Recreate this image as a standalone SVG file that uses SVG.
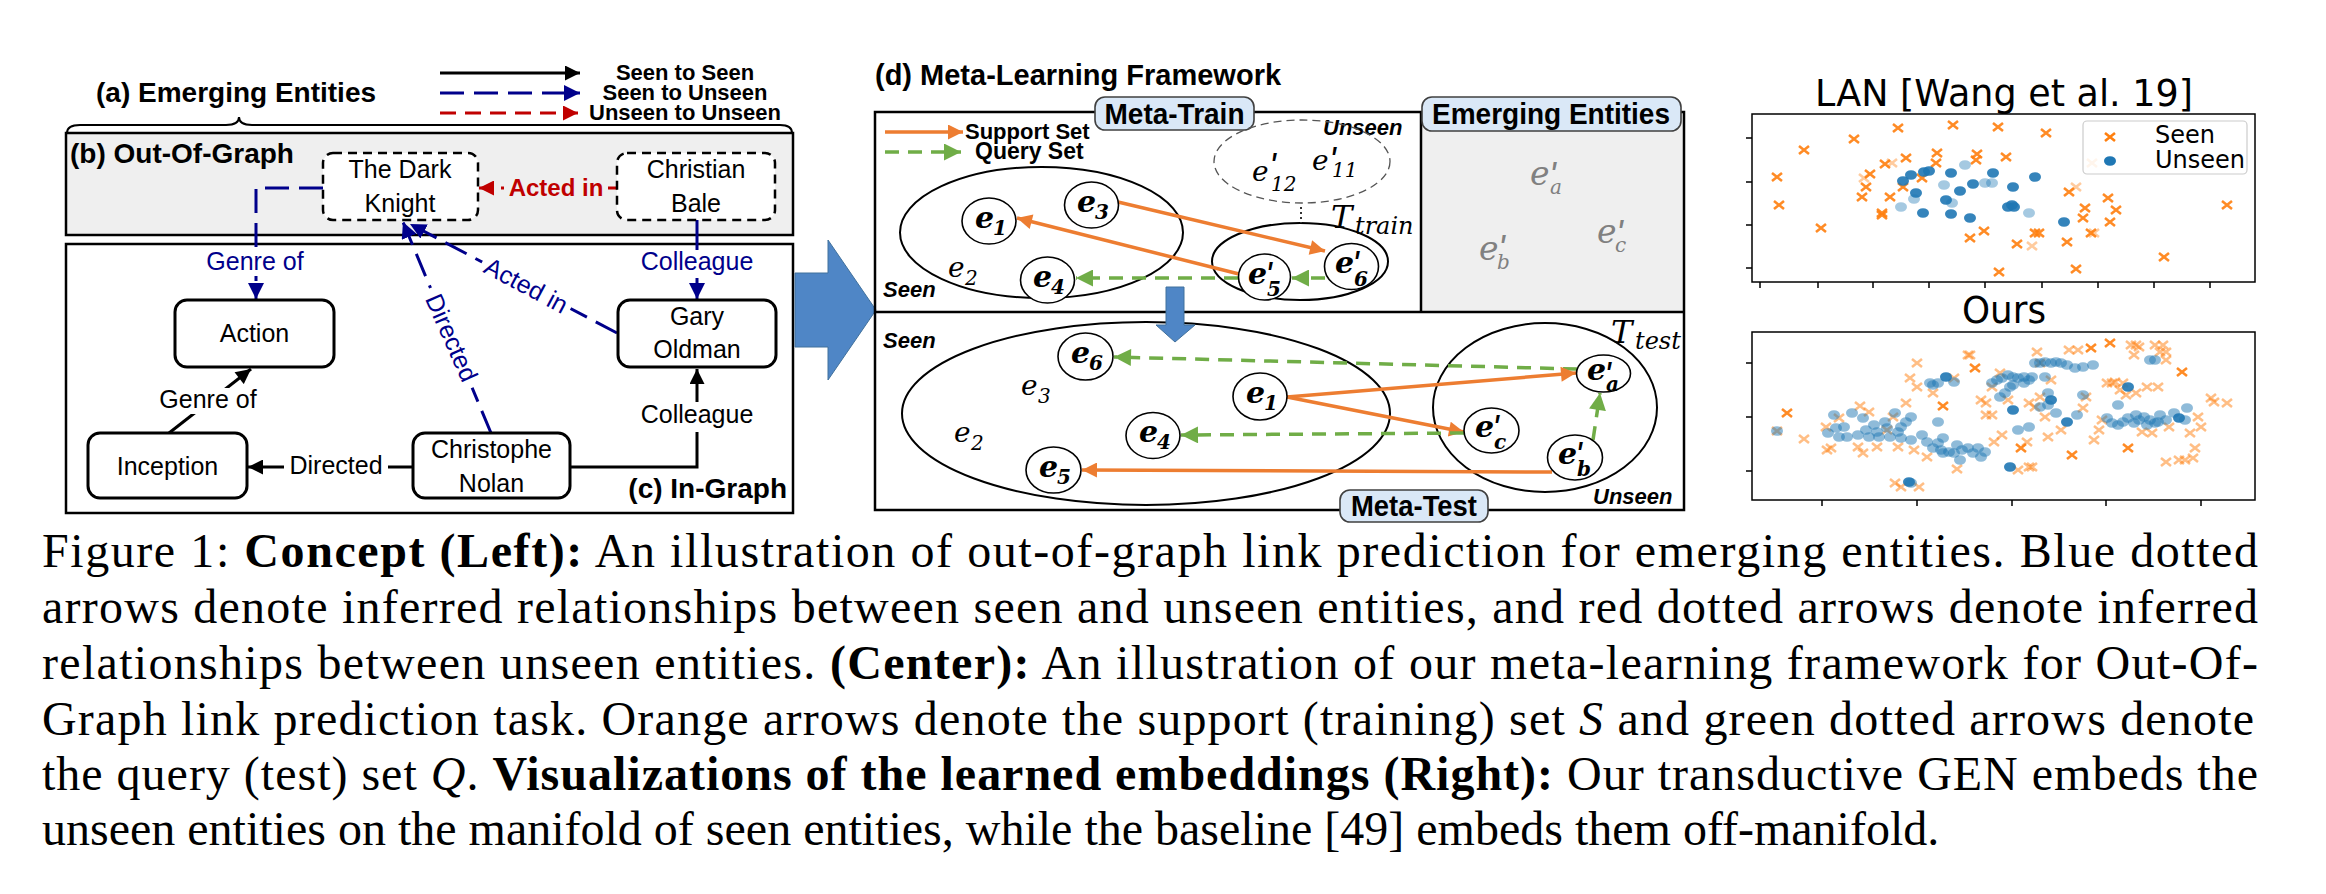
<svg xmlns="http://www.w3.org/2000/svg" width="2326" height="894" viewBox="0 0 2326 894">
<style>
text{font-family:"Liberation Sans",Arial,sans-serif;fill:#000}
.h28{font-size:28px;font-weight:bold}
.nd{fill:#fff;stroke:#000;stroke-width:3}
.ndd{fill:#fff;stroke:#000;stroke-width:2.5;stroke-dasharray:9 6}
.nt{font-size:25px;text-anchor:middle}
.el{font-size:25px;text-anchor:middle}
.bt{fill:#00008b}
.rt{fill:#c00000;font-weight:bold;font-size:24px}
.k{stroke:#000;stroke-width:3;fill:none}
.bl{stroke:#00008b;stroke-width:3;fill:none}
.bld{stroke:#00008b;stroke-width:3;fill:none;stroke-dasharray:24 10}
.rd{stroke:#c00000;stroke-width:3;fill:none;stroke-dasharray:16 9}
.or{stroke:#ed7d31;stroke-width:3.5;fill:none}
.gr{stroke:#70ad47;stroke-width:3.5;fill:none;stroke-dasharray:14 9}
.frame{fill:none;stroke:#000;stroke-width:2.5}
.tag{fill:#dae8f7;stroke:#404040;stroke-width:1.6}
.tagt{font-size:30px;font-weight:bold;text-anchor:middle}
.reg{fill:none;stroke:#000;stroke-width:2}
.cn{fill:#fff;stroke:#000;stroke-width:1.6}
.mb{font-family:"DejaVu Serif",serif;font-style:italic;font-weight:bold;font-size:30px}
.m{font-family:"DejaVu Serif",serif;font-style:italic;font-size:28px}
.sb{font-size:20px}
.pr{font-family:"Liberation Sans",Arial,sans-serif;font-size:36px;font-weight:normal;font-style:italic}
.gm{fill:#808080;font-size:33px}
.si{font-weight:bold;font-style:italic;font-size:22px}
.cap{font-family:"Liberation Serif","Times New Roman",serif;font-size:48px}
.ax{fill:none;stroke:#000;stroke-width:1.5}
.tk{stroke:#000;stroke-width:1.5}
.pt{font-family:"DejaVu Sans",sans-serif;font-size:38px;text-anchor:middle}
.lg{font-family:"DejaVu Sans",sans-serif;font-size:24px}
.p1 use{opacity:.9}
.p1 use.f{opacity:.4}
.p2 use{opacity:.5}
.p2 use.d{opacity:.9}
</style>
<defs>
<marker id="ak" viewBox="0 0 10 10" refX="10" refY="5" markerWidth="16" markerHeight="15" markerUnits="userSpaceOnUse" orient="auto"><path d="M0,0L10,5L0,10z" fill="#000"/></marker>
<marker id="ab" viewBox="0 0 10 10" refX="10" refY="5" markerWidth="16" markerHeight="16" markerUnits="userSpaceOnUse" orient="auto"><path d="M0,0L10,5L0,10z" fill="#00008b"/></marker>
<marker id="ar" viewBox="0 0 10 10" refX="10" refY="5" markerWidth="17" markerHeight="15" markerUnits="userSpaceOnUse" orient="auto"><path d="M0,0L10,5L0,10z" fill="#c00000"/></marker>
<marker id="ao" viewBox="0 0 10 10" refX="10" refY="5" markerWidth="19" markerHeight="15" markerUnits="userSpaceOnUse" orient="auto"><path d="M0,0L10,5L0,10z" fill="#ed7d31"/></marker>
<marker id="ag" viewBox="0 0 10 10" refX="10" refY="5" markerWidth="18" markerHeight="17" markerUnits="userSpaceOnUse" orient="auto"><path d="M0,0L10,5L0,10z" fill="#70ad47"/></marker>
<path id="xo" d="M-5,-4L5,4M-5,4L5,-4" stroke="#ff7f0e" stroke-width="2.6"/>
<ellipse id="db" rx="6" ry="4.8" fill="#1f77b4"/>
</defs>
<rect width="2326" height="894" fill="#fff"/>

<!-- ===== Left panel ===== -->
<g id="left-panel">
<text x="96" y="102" class="h28">(a) Emerging Entities</text>
<text x="685" y="80" font-size="22" font-weight="bold" text-anchor="middle">Seen to Seen</text>
<text x="685" y="100" font-size="22" font-weight="bold" text-anchor="middle">Seen to Unseen</text>
<text x="685" y="120" font-size="22" font-weight="bold" text-anchor="middle">Unseen to Unseen</text>
<path d="M67,133 Q67,125 80,125 L226,125 Q239,125 239,117 Q239,125 252,125 L780,125 Q792,125 792,133" fill="none" stroke="#000" stroke-width="2"/>
<rect x="66" y="133" width="727" height="102" fill="#efefef" stroke="#000" stroke-width="2.5"/>
<text x="70" y="163" class="h28">(b) Out-Of-Graph</text>
<rect x="66" y="244" width="727" height="269" fill="#fff" stroke="#000" stroke-width="2.5"/>
<text x="787" y="498" class="h28" text-anchor="end">(c) In-Graph</text>
<polygon points="795,273 828,273 828,240 876,310 828,380 828,347 795,347" fill="#4f86c6" stroke="#41719c" stroke-width="1"/>
</g>

<g id="connectors">
<!-- legend -->
<line x1="440" y1="73" x2="580" y2="73" class="k" marker-end="url(#ak)"/>
<line x1="440" y1="93" x2="580" y2="93" class="bld" marker-end="url(#ab)"/>
<line x1="440" y1="113" x2="578" y2="113" class="rd" marker-end="url(#ar)"/>
<!-- out-of-graph / in-graph edges -->
<line x1="617" y1="188" x2="479" y2="188" class="rd" marker-end="url(#ar)"/>
<rect x="504" y="174" width="104" height="26" fill="#efefef"/>
<text x="556" y="196" class="rt" text-anchor="middle">Acted in</text>
<path d="M323,188 H256 V299" class="bld" marker-end="url(#ab)"/>
<rect x="204" y="250" width="102" height="26" fill="#fff"/>
<text x="255" y="270" class="el bt">Genre of</text>
<line x1="697" y1="220" x2="697" y2="299" class="bl" marker-end="url(#ab)"/>
<rect x="639" y="250" width="116" height="28" fill="#fff"/>
<text x="697" y="270" class="el bt">Colleague</text>
<line x1="491" y1="433" x2="403" y2="222" class="bld" marker-end="url(#ab)"/>
<g transform="translate(451,338) rotate(66)"><rect x="-54" y="-14" width="108" height="28" fill="#fff"/><text class="el bt" y="8">Directed</text></g>
<line x1="617" y1="333" x2="410" y2="224" class="bld" marker-end="url(#ab)"/>
<g transform="translate(526,286) rotate(28)"><rect x="-50" y="-14" width="100" height="28" fill="#fff"/><text class="el bt" y="8">Acted in</text></g>
<line x1="413" y1="467" x2="248" y2="467" class="k" marker-end="url(#ak)"/>
<rect x="284" y="452" width="104" height="28" fill="#fff"/>
<text x="336" y="474" class="el">Directed</text>
<line x1="169" y1="433" x2="251" y2="369" class="k" marker-end="url(#ak)"/>
<rect x="156" y="388" width="104" height="26" fill="#fff"/>
<text x="208" y="408" class="el">Genre of</text>
<polyline points="570,467 697,467 697,369" class="k" marker-end="url(#ak)"/>
<rect x="639" y="402" width="116" height="30" fill="#fff"/>
<text x="697" y="423" class="el">Colleague</text>
</g>

<g id="node-dark-knight"><rect x="323" y="153" width="155" height="67" rx="10" class="ndd"/><text x="400" y="178" class="nt">The Dark</text><text x="400" y="212" class="nt">Knight</text></g>
<g id="node-christian-bale"><rect x="617" y="153" width="158" height="67" rx="10" class="ndd"/><text x="696" y="178" class="nt">Christian</text><text x="696" y="212" class="nt">Bale</text></g>
<g id="node-action"><rect x="175" y="300" width="159" height="67" rx="12" class="nd"/><text x="254.5" y="342" class="nt">Action</text></g>
<g id="node-gary-oldman"><rect x="618" y="300" width="158" height="67" rx="12" class="nd"/><text x="697" y="325" class="nt">Gary</text><text x="697" y="358" class="nt">Oldman</text></g>
<g id="node-inception"><rect x="88" y="433" width="159" height="65" rx="12" class="nd"/><text x="167.5" y="475" class="nt">Inception</text></g>
<g id="node-nolan"><rect x="413" y="433" width="157" height="65" rx="12" class="nd"/><text x="491.5" y="458" class="nt">Christophe</text><text x="491.5" y="492" class="nt">Nolan</text></g>

<!-- ===== Center panel ===== -->
<g id="center-panel">
<text x="875" y="85" font-size="29" font-weight="bold">(d) Meta-Learning Framework</text>
<rect x="1421" y="112" width="263" height="200" fill="#efefef"/>
<rect x="875" y="112" width="809" height="398" class="frame"/>
<line x1="875" y1="312" x2="1684" y2="312" stroke="#000" stroke-width="2.5"/>
<line x1="1421" y1="112" x2="1421" y2="312" stroke="#000" stroke-width="2.5"/>
<rect x="1095" y="97" width="159" height="33" rx="10" class="tag"/>
<text x="1174.5" y="124" class="tagt" textLength="140" lengthAdjust="spacingAndGlyphs">Meta-Train</text>
<rect x="1422" y="97" width="259" height="34" rx="10" class="tag"/>
<text x="1551" y="124" class="tagt" textLength="238" lengthAdjust="spacingAndGlyphs">Emerging Entities</text>
<rect x="1340" y="490" width="148" height="32" rx="10" class="tag"/>
<text x="1414" y="516" class="tagt" textLength="126" lengthAdjust="spacingAndGlyphs">Meta-Test</text>
<text x="965" y="139" font-size="22" font-weight="bold">Support Set</text>
<text x="975" y="159" font-size="23" font-weight="bold">Query Set</text>
<text x="883" y="297" class="si">Seen</text>
<text x="1323" y="135" class="si" font-size="23">Unseen</text>
<text x="883" y="348" class="si">Seen</text>
<text x="1593" y="504" class="si" font-size="23">Unseen</text>
<ellipse cx="1041.5" cy="232.5" rx="141.5" ry="65.5" class="reg"/>
<ellipse cx="1302" cy="161.5" rx="88" ry="41.5" fill="none" stroke="#555" stroke-width="1.3" stroke-dasharray="8 5"/>
<ellipse cx="1300" cy="261.5" rx="88" ry="38.5" class="reg"/>
<line x1="1301" y1="207" x2="1301" y2="223" stroke="#333" stroke-width="2" stroke-dasharray="2 3"/>
<text class="m"><tspan x="1331" y="228" font-size="32">T</tspan><tspan x="1355" y="234" font-size="24">train</tspan></text>
<ellipse cx="1146" cy="413.5" rx="244" ry="91.5" class="reg"/>
<ellipse cx="1545" cy="407.5" rx="112" ry="84.5" class="reg"/>
<text class="m"><tspan x="1611" y="343" font-size="32">T</tspan><tspan x="1635" y="349" font-size="24">test</tspan></text>
<polygon points="1166,287 1184,287 1184,325 1195,325 1175,342 1156,325 1166,325" fill="#4f86c6" stroke="#41719c" stroke-width="1"/>
<!-- plain entities -->
<text class="m"><tspan x="948" y="277">e</tspan><tspan x="965" y="285" class="sb">2</tspan></text>
<text class="m"><tspan x="954" y="442">e</tspan><tspan x="971" y="450" class="sb">2</tspan></text>
<text class="m"><tspan x="1021" y="395">e</tspan><tspan x="1038" y="403" class="sb">3</tspan></text>
<text class="m"><tspan x="1252" y="181">e</tspan><tspan x="1269" y="179" class="pr">'</tspan><tspan x="1271" y="191" class="sb">12</tspan></text>
<text class="m"><tspan x="1312" y="170">e</tspan><tspan x="1329" y="173" class="pr">'</tspan><tspan x="1332" y="177" class="sb">11</tspan></text>
<text class="m gm"><tspan x="1530" y="185">e</tspan><tspan x="1549" y="188" class="pr">'</tspan><tspan x="1550" y="194" class="sb">a</tspan></text>
<text class="m gm"><tspan x="1479" y="260">e</tspan><tspan x="1498" y="261" class="pr">'</tspan><tspan x="1497" y="269" class="sb">b</tspan></text>
<text class="m gm"><tspan x="1597" y="243">e</tspan><tspan x="1616" y="246" class="pr">'</tspan><tspan x="1615" y="252" class="sb">c</tspan></text>
</g>

<g id="center-connectors">
<line x1="885" y1="132" x2="963" y2="132" class="or" marker-end="url(#ao)"/>
<line x1="885" y1="152" x2="961" y2="152" class="gr" marker-end="url(#ag)"/>
<line x1="1118" y1="202" x2="1325" y2="251" class="or" marker-end="url(#ao)"/>
<line x1="1239" y1="274" x2="1017" y2="218" class="or" marker-end="url(#ao)"/>
<line x1="1238" y1="278" x2="1076" y2="278" class="gr" marker-end="url(#ag)"/>
<line x1="1325" y1="278" x2="1292" y2="278" class="gr" marker-end="url(#ag)"/>
<line x1="1577" y1="369" x2="1114" y2="357" class="gr" marker-end="url(#ag)"/>
<line x1="1287" y1="397" x2="1576" y2="373" class="or" marker-end="url(#ao)"/>
<line x1="1287" y1="397" x2="1464" y2="432" class="or" marker-end="url(#ao)"/>
<line x1="1464" y1="433" x2="1181" y2="435" class="gr" marker-end="url(#ag)"/>
<line x1="1552" y1="472" x2="1082" y2="470" class="or" marker-end="url(#ao)"/>
<line x1="1593" y1="440" x2="1600" y2="393" class="gr" marker-end="url(#ag)"/>
</g>

<g id="node-train-e1"><ellipse cx="989" cy="221" rx="27" ry="23" class="cn"/><text class="mb"><tspan x="975" y="228">e</tspan><tspan x="993" y="235" class="sb">1</tspan></text></g>
<g id="node-train-e3"><ellipse cx="1091.5" cy="205" rx="27" ry="23" class="cn"/><text class="mb"><tspan x="1077" y="212">e</tspan><tspan x="1095" y="219" class="sb">3</tspan></text></g>
<g id="node-train-e4"><ellipse cx="1047.5" cy="280" rx="27" ry="23" class="cn"/><text class="mb"><tspan x="1033" y="287">e</tspan><tspan x="1051" y="294" class="sb">4</tspan></text></g>
<g id="node-train-e5p"><ellipse cx="1264.5" cy="277" rx="26" ry="23" class="cn"/><text class="mb"><tspan x="1248" y="284">e</tspan><tspan x="1265" y="288" class="pr">'</tspan><tspan x="1267" y="296" class="sb">5</tspan></text></g>
<g id="node-train-e6p"><ellipse cx="1351.5" cy="266.5" rx="27" ry="23" class="cn"/><text class="mb"><tspan x="1335" y="273">e</tspan><tspan x="1352" y="277" class="pr">'</tspan><tspan x="1354" y="286" class="sb">6</tspan></text></g>
<g id="node-test-e6"><ellipse cx="1085.5" cy="356.5" rx="27.5" ry="23.5" class="cn"/><text class="mb"><tspan x="1071" y="363">e</tspan><tspan x="1089" y="370" class="sb">6</tspan></text></g>
<g id="node-test-e1"><ellipse cx="1260" cy="396.5" rx="27" ry="23.5" class="cn"/><text class="mb"><tspan x="1246" y="403">e</tspan><tspan x="1264" y="410" class="sb">1</tspan></text></g>
<g id="node-test-e4"><ellipse cx="1153" cy="435.5" rx="27" ry="23" class="cn"/><text class="mb"><tspan x="1139" y="442">e</tspan><tspan x="1157" y="449" class="sb">4</tspan></text></g>
<g id="node-test-e5"><ellipse cx="1053.5" cy="470" rx="27.5" ry="23" class="cn"/><text class="mb"><tspan x="1039" y="477">e</tspan><tspan x="1057" y="484" class="sb">5</tspan></text></g>
<g id="node-test-ea"><ellipse cx="1603.5" cy="373.5" rx="27" ry="18.5" class="cn"/><text class="mb"><tspan x="1587" y="380">e</tspan><tspan x="1604" y="388" class="pr">'</tspan><tspan x="1606" y="391" class="sb">a</tspan></text></g>
<g id="node-test-ec"><ellipse cx="1491.5" cy="430.5" rx="27.5" ry="22.5" class="cn"/><text class="mb"><tspan x="1475" y="437">e</tspan><tspan x="1492" y="441" class="pr">'</tspan><tspan x="1494" y="449" class="sb">c</tspan></text></g>
<g id="node-test-eb"><ellipse cx="1575" cy="457.5" rx="27.5" ry="22.5" class="cn"/><text class="mb"><tspan x="1558" y="464">e</tspan><tspan x="1575" y="468" class="pr">'</tspan><tspan x="1577" y="476" class="sb">b</tspan></text></g>

<!-- ===== Right plots ===== -->
<g id="plot-lan">
<text x="2004" y="106" class="pt" textLength="378" lengthAdjust="spacingAndGlyphs">LAN [Wang et al. 19]</text>
<g class="p1">
<use href="#xo" x="1898" y="128"/><use href="#xo" x="1953" y="125"/><use href="#xo" x="1998" y="127"/><use href="#xo" x="2046" y="133"/><use href="#xo" x="1854" y="139"/><use href="#xo" x="1804" y="150"/><use href="#xo" x="1777" y="177"/><use href="#xo" x="1779" y="205"/><use href="#xo" x="1821" y="228"/><use href="#xo" x="1870" y="174"/><use href="#xo" x="1864" y="178" class="f"/><use href="#xo" x="1866" y="187"/><use href="#xo" x="1862" y="197"/><use href="#xo" x="1890" y="197"/><use href="#xo" x="1882" y="213"/><use href="#xo" x="1882" y="215"/><use href="#xo" x="1885" y="164"/><use href="#xo" x="1892" y="163" class="f"/><use href="#xo" x="1906" y="158"/><use href="#xo" x="1937" y="153"/><use href="#xo" x="1936" y="163"/><use href="#xo" x="1977" y="154"/><use href="#xo" x="1976" y="160"/><use href="#xo" x="2006" y="157"/><use href="#xo" x="1903" y="187"/><use href="#xo" x="1922" y="178"/><use href="#xo" x="2069" y="192"/><use href="#xo" x="2076" y="187" class="f"/><use href="#xo" x="2108" y="198"/><use href="#xo" x="2116" y="210"/><use href="#xo" x="2085" y="208"/><use href="#xo" x="2083" y="218"/><use href="#xo" x="2110" y="222"/><use href="#xo" x="2091" y="233"/><use href="#xo" x="2094" y="233" class="f"/><use href="#xo" x="2067" y="242"/><use href="#xo" x="2039" y="233"/><use href="#xo" x="2035" y="233"/><use href="#xo" x="2017" y="244"/><use href="#xo" x="2032" y="246" class="f"/><use href="#xo" x="1984" y="231"/><use href="#xo" x="1970" y="238"/><use href="#xo" x="1999" y="272"/><use href="#xo" x="2076" y="269"/><use href="#xo" x="2164" y="257"/><use href="#xo" x="2227" y="205"/><use href="#xo" x="2092" y="163" class="f"/>
<use href="#db" x="1903" y="181"/><use href="#db" x="1911" y="175"/><use href="#db" x="1916" y="193"/><use href="#db" x="1924" y="172"/><use href="#db" x="1929" y="171"/><use href="#db" x="1914" y="199" class="f"/><use href="#db" x="1901" y="207" class="f"/><use href="#db" x="1923" y="213"/><use href="#db" x="1944" y="185" class="f"/><use href="#db" x="1951" y="173"/><use href="#db" x="1951" y="214"/><use href="#db" x="1946" y="200"/><use href="#db" x="1952" y="203" class="f"/><use href="#db" x="1960" y="191"/><use href="#db" x="1965" y="165" class="f"/><use href="#db" x="1973" y="184"/><use href="#db" x="1985" y="183" class="f"/><use href="#db" x="1992" y="183" class="f"/><use href="#db" x="1993" y="173"/><use href="#db" x="2013" y="187"/><use href="#db" x="2008" y="207"/><use href="#db" x="2012" y="205"/><use href="#db" x="2014" y="207"/><use href="#db" x="2029" y="213" class="f"/><use href="#db" x="2035" y="177"/><use href="#db" x="1970" y="218"/><use href="#db" x="2064" y="222"/>
</g>
<rect x="2083" y="121" width="164" height="53" rx="4" fill="#fff" fill-opacity=".8" stroke="#ccc" stroke-width="1.2"/>
<use href="#xo" x="2110" y="137"/>
<use href="#db" x="2110" y="161"/>
<text x="2155" y="143" class="lg">Seen</text>
<text x="2155" y="168" class="lg">Unseen</text>
<rect x="1752" y="114" width="503" height="168" class="ax"/>
<path d="M1746,138H1752M1746,182H1752M1746,225H1752M1746,268H1752M1760,282V288M1818,282V288M1873,282V288M1929,282V288M1985,282V288M2042,282V288M2098,282V288M2154,282V288M2210,282V288" class="tk"/>
</g>

<g id="plot-ours">
<text x="2004" y="323" class="pt" textLength="84" lengthAdjust="spacingAndGlyphs">Ours</text>
<g class="p2">
<use href="#xo" x="1787" y="413" class="d"/><use href="#xo" x="1804" y="439"/><use href="#xo" x="1777" y="431"/><use href="#xo" x="1826" y="427"/><use href="#xo" x="1827" y="450"/><use href="#xo" x="1831" y="448"/><use href="#xo" x="1839" y="418"/><use href="#xo" x="1860" y="406"/><use href="#xo" x="1869" y="412"/><use href="#xo" x="1858" y="447"/><use href="#xo" x="1863" y="453"/><use href="#xo" x="1877" y="447"/><use href="#xo" x="1887" y="430"/><use href="#xo" x="1893" y="417"/><use href="#xo" x="1898" y="447"/><use href="#xo" x="1895" y="483"/><use href="#xo" x="1901" y="487"/><use href="#xo" x="1906" y="403"/><use href="#xo" x="1910" y="378"/><use href="#xo" x="1917" y="387"/><use href="#xo" x="1917" y="363"/><use href="#xo" x="1914" y="450"/><use href="#xo" x="1919" y="487"/><use href="#xo" x="1927" y="457"/><use href="#xo" x="1933" y="393"/><use href="#xo" x="1943" y="406" class="d"/><use href="#xo" x="1957" y="469"/><use href="#xo" x="1954" y="378"/><use href="#xo" x="1968" y="355"/><use href="#xo" x="1970" y="355"/><use href="#xo" x="1975" y="368" class="d"/><use href="#xo" x="1981" y="400"/><use href="#xo" x="1986" y="403"/><use href="#xo" x="1986" y="415"/><use href="#xo" x="1992" y="415"/><use href="#xo" x="1992" y="387"/><use href="#xo" x="1994" y="442"/><use href="#xo" x="2000" y="373"/><use href="#xo" x="2002" y="435"/><use href="#xo" x="2008" y="400"/><use href="#xo" x="2018" y="470"/><use href="#xo" x="2021" y="448" class="d"/><use href="#xo" x="2027" y="442"/><use href="#xo" x="2029" y="467"/><use href="#xo" x="2032" y="467"/><use href="#xo" x="2029" y="403"/><use href="#xo" x="2035" y="407"/><use href="#xo" x="2040" y="397"/><use href="#xo" x="2045" y="417"/><use href="#xo" x="2048" y="437"/><use href="#xo" x="2051" y="380"/><use href="#xo" x="2037" y="352"/><use href="#xo" x="2040" y="363"/><use href="#xo" x="2061" y="430"/><use href="#xo" x="2069" y="350"/><use href="#xo" x="2072" y="455" class="d"/><use href="#xo" x="2078" y="350"/><use href="#xo" x="2083" y="408"/><use href="#xo" x="2086" y="397"/><use href="#xo" x="2091" y="348" class="d"/><use href="#xo" x="2094" y="440"/><use href="#xo" x="2099" y="430"/><use href="#xo" x="2102" y="420"/><use href="#xo" x="2107" y="383"/><use href="#xo" x="2112" y="383"/><use href="#xo" x="2110" y="343" class="d"/><use href="#xo" x="2115" y="382"/><use href="#xo" x="2120" y="390"/><use href="#xo" x="2123" y="383"/><use href="#xo" x="2126" y="395"/><use href="#xo" x="2128" y="448" class="d"/><use href="#xo" x="2131" y="345"/><use href="#xo" x="2136" y="345"/><use href="#xo" x="2134" y="355"/><use href="#xo" x="2136" y="393"/><use href="#xo" x="2139" y="347"/><use href="#xo" x="2142" y="432"/><use href="#xo" x="2147" y="387"/><use href="#xo" x="2152" y="433"/><use href="#xo" x="2155" y="345"/><use href="#xo" x="2158" y="387"/><use href="#xo" x="2160" y="352"/><use href="#xo" x="2163" y="345"/><use href="#xo" x="2166" y="352"/><use href="#xo" x="2166" y="360"/><use href="#xo" x="2166" y="462"/><use href="#xo" x="2169" y="427"/><use href="#xo" x="2182" y="372" class="d"/><use href="#xo" x="2179" y="460"/><use href="#xo" x="2185" y="460"/><use href="#xo" x="2190" y="433"/><use href="#xo" x="2193" y="458"/><use href="#xo" x="2195" y="448"/><use href="#xo" x="2198" y="417"/><use href="#xo" x="2201" y="427"/><use href="#xo" x="2211" y="398"/><use href="#xo" x="2214" y="402"/><use href="#xo" x="2227" y="403"/>
<use href="#db" x="1777" y="431"/><use href="#db" x="1834" y="415"/><use href="#db" x="1844" y="427"/><use href="#db" x="1852" y="413"/><use href="#db" x="1863" y="418"/><use href="#db" x="1874" y="425"/><use href="#db" x="1885" y="422"/><use href="#db" x="1895" y="413"/><use href="#db" x="1901" y="427"/><use href="#db" x="1906" y="422"/><use href="#db" x="1911" y="417"/><use href="#db" x="1828" y="433"/><use href="#db" x="1839" y="437"/><use href="#db" x="1847" y="437"/><use href="#db" x="1858" y="435"/><use href="#db" x="1869" y="437"/><use href="#db" x="1879" y="437"/><use href="#db" x="1890" y="437"/><use href="#db" x="1901" y="438"/><use href="#db" x="1911" y="440"/><use href="#db" x="1836" y="428"/><use href="#db" x="1866" y="430"/><use href="#db" x="1877" y="432"/><use href="#db" x="1887" y="428"/><use href="#db" x="1898" y="432"/><use href="#db" x="1922" y="435"/><use href="#db" x="1927" y="442"/><use href="#db" x="1933" y="448"/><use href="#db" x="1938" y="443"/><use href="#db" x="1943" y="438"/><use href="#db" x="1941" y="450"/><use href="#db" x="1949" y="452"/><use href="#db" x="1954" y="453"/><use href="#db" x="1957" y="445"/><use href="#db" x="1962" y="450"/><use href="#db" x="1968" y="448"/><use href="#db" x="1973" y="453"/><use href="#db" x="1978" y="448"/><use href="#db" x="1981" y="457"/><use href="#db" x="1985" y="452"/><use href="#db" x="1960" y="460"/><use href="#db" x="1943" y="453"/><use href="#db" x="1938" y="422"/><use href="#db" x="1909" y="482" class="d"/><use href="#db" x="1911" y="483"/><use href="#db" x="1930" y="383"/><use href="#db" x="1933" y="385"/><use href="#db" x="1938" y="383"/><use href="#db" x="1946" y="377" class="d"/><use href="#db" x="1954" y="382"/><use href="#db" x="1992" y="383"/><use href="#db" x="1997" y="380"/><use href="#db" x="2002" y="378"/><use href="#db" x="2008" y="375"/><use href="#db" x="2013" y="377"/><use href="#db" x="2018" y="378"/><use href="#db" x="2024" y="377"/><use href="#db" x="2029" y="380"/><use href="#db" x="2032" y="377"/><use href="#db" x="2013" y="385"/><use href="#db" x="2000" y="397"/><use href="#db" x="2005" y="393"/><use href="#db" x="2010" y="387"/><use href="#db" x="2024" y="383"/><use href="#db" x="2035" y="363"/><use href="#db" x="2040" y="363"/><use href="#db" x="2045" y="362"/><use href="#db" x="2051" y="363"/><use href="#db" x="2056" y="362"/><use href="#db" x="2061" y="363"/><use href="#db" x="2067" y="365"/><use href="#db" x="2075" y="368"/><use href="#db" x="2083" y="367"/><use href="#db" x="2093" y="365"/><use href="#db" x="2045" y="377"/><use href="#db" x="2048" y="393"/><use href="#db" x="2051" y="400" class="d"/><use href="#db" x="2040" y="407"/><use href="#db" x="2048" y="405"/><use href="#db" x="2029" y="427"/><use href="#db" x="2018" y="430"/><use href="#db" x="2013" y="410" class="d"/><use href="#db" x="2010" y="467" class="d"/><use href="#db" x="2056" y="413"/><use href="#db" x="2067" y="422" class="d"/><use href="#db" x="2077" y="415"/><use href="#db" x="2083" y="395"/><use href="#db" x="2107" y="418"/><use href="#db" x="2112" y="423"/><use href="#db" x="2118" y="425"/><use href="#db" x="2123" y="422"/><use href="#db" x="2128" y="418"/><use href="#db" x="2134" y="423"/><use href="#db" x="2139" y="420"/><use href="#db" x="2144" y="417"/><use href="#db" x="2150" y="420"/><use href="#db" x="2155" y="423"/><use href="#db" x="2160" y="415"/><use href="#db" x="2166" y="420"/><use href="#db" x="2174" y="413"/><use href="#db" x="2179" y="418" class="d"/><use href="#db" x="2185" y="420"/><use href="#db" x="2187" y="408"/><use href="#db" x="2118" y="405"/><use href="#db" x="2128" y="387" class="d"/><use href="#db" x="2150" y="360"/><use href="#db" x="2155" y="360"/><use href="#db" x="2136" y="415"/><use href="#db" x="2147" y="425"/><use href="#db" x="2158" y="422"/>
</g>
<rect x="1752" y="332" width="503" height="168" class="ax"/>
<path d="M1746,363H1752M1746,417H1752M1746,471H1752M1822,500V506M1917,500V506M2012,500V506M2106,500V506M2201,500V506" class="tk"/>
</g>

<!-- ===== Caption ===== -->
<g id="caption">
<text x="42" y="567" class="cap" textLength="2216" lengthAdjust="spacing">Figure 1: <tspan font-weight="bold">Concept (Left):</tspan> An illustration of out-of-graph link prediction for emerging entities. Blue dotted</text>
<text x="42" y="623" class="cap" textLength="2216" lengthAdjust="spacing">arrows denote inferred relationships between seen and unseen entities, and red dotted arrows denote inferred</text>
<text x="42" y="679" class="cap" textLength="2216" lengthAdjust="spacing">relationships between unseen entities. <tspan font-weight="bold">(Center):</tspan> An illustration of our meta-learning framework for Out-Of-</text>
<text x="42" y="735" class="cap" textLength="2212" lengthAdjust="spacing">Graph link prediction task. Orange arrows denote the support (training) set <tspan font-style="italic">S</tspan> and green dotted arrows denote</text>
<text x="42" y="790" class="cap" textLength="2216" lengthAdjust="spacing">the query (test) set <tspan font-style="italic">Q</tspan>. <tspan font-weight="bold">Visualizations of the learned embeddings (Right):</tspan> Our transductive GEN embeds the</text>
<text x="42" y="845" class="cap">unseen entities on the manifold of seen entities, while the baseline [49] embeds them off-manifold.</text>
</g>
</svg>
